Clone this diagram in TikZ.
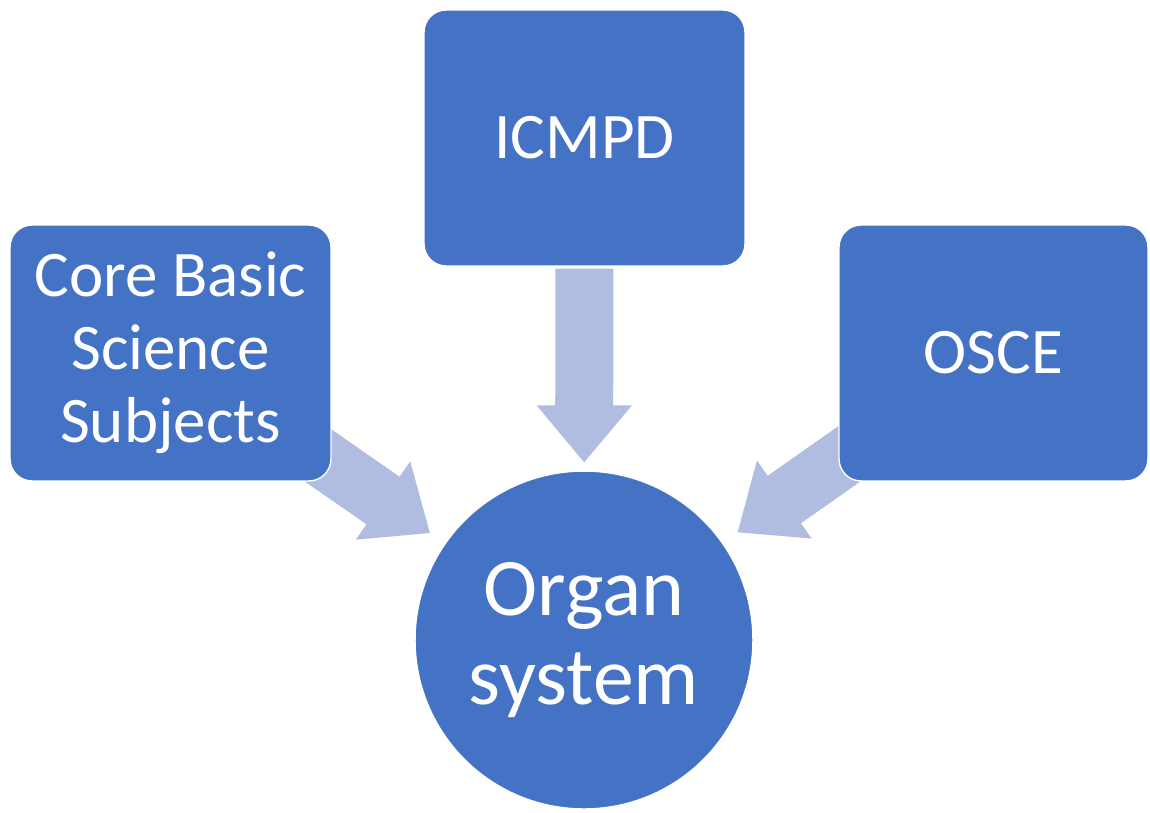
\documentclass[tikz,border=0pt]{standalone}
\usepackage{fontspec}
\setmainfont{Carlito}
\usetikzlibrary{arrows.meta,backgrounds}

\definecolor{bleu}{HTML}{4472C4}
\definecolor{bleuclair}{HTML}{B0BCE0}

\begin{document}
\begin{tikzpicture}[x=0.02cm,y=-0.02cm]
			\tikzset{boite/.style={rectangle, rounded corners=0.44cm, fill=bleu, draw=white, line width=0.8pt, text=white, align=center, minimum width=6.42cm, minimum height=5.12cm, inner sep=0pt, font=\fontsize{37}{41.5}\selectfont},
			rond/.style={circle, fill=bleu, draw=white, line width=0.8pt, text=white, align=center, minimum size=6.76cm, inner sep=0pt, font=\fontsize{46.5}{51}\selectfont},
			fleche/.style={draw=bleuclair, line width=1.16cm, -{Triangle[width=1.9cm, length=1.14cm, line width=1pt]}}};

			\useasboundingbox (0, 0) rectangle (1150, 812);

			\node[boite] (icmpd) at (584.5, 138) {ICMPD};
			\node[boite] (core) at (170.5, 353) {Core Basic\\Science\\Subjects};
			\node[boite, minimum width=6.18cm] (osce) at (993.5, 353) {OSCE};
			\node[rond] (organ) at (584, 640) {Organ\\system};

			\begin{scope}[on background layer]
				\draw[fleche, shorten <=0.04cm, shorten >=0.16cm] (icmpd) to (organ);
				\draw[fleche, shorten <=-0.5cm, shorten >=0.36cm] (core) to (organ);
				\draw[fleche, shorten <=-0.5cm, shorten >=0.36cm] (osce) to (organ);
			\end{scope}
		\end{tikzpicture}
\end{document}
